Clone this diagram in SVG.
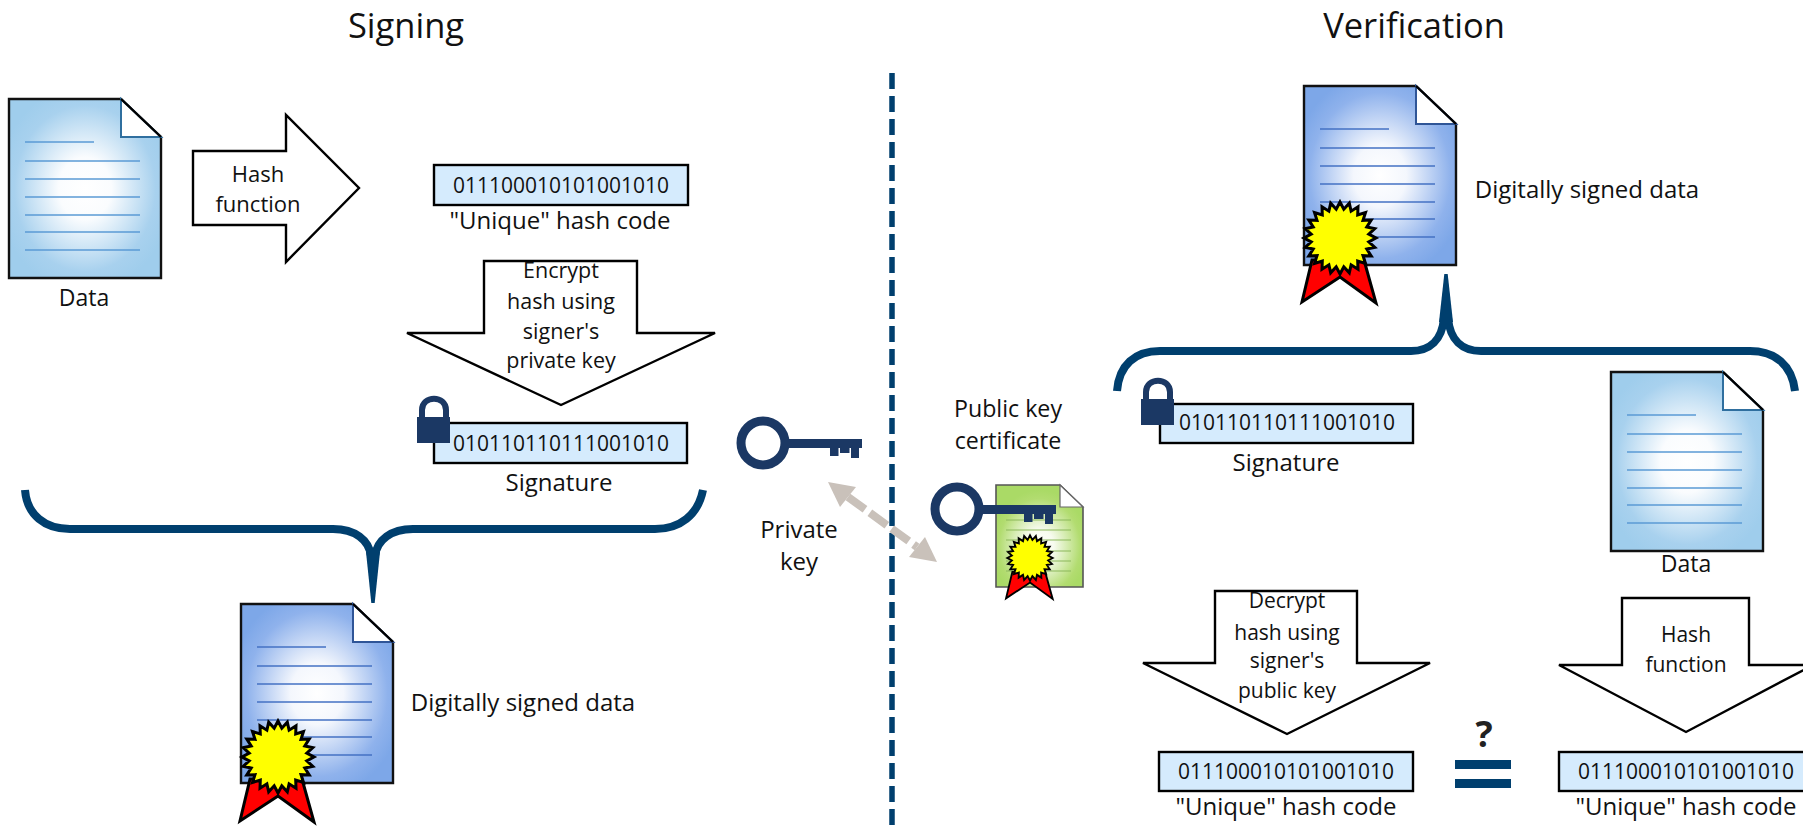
<svg xmlns="http://www.w3.org/2000/svg" xmlns:xlink="http://www.w3.org/1999/xlink" width="1803" height="829" viewBox="0 0 1803 829">
<style>
text{font-family:"Open Sans","Noto Sans",sans-serif;font-size:21px;fill:#111;text-anchor:middle}
.title{font-size:34.5px}
.label{font-size:24px}
.in{font-size:21.5px}
.q{font-size:36px;font-weight:700;fill:#222}
.arrow{fill:#fff;stroke:#000;stroke-width:2.4;stroke-linejoin:miter}
.box{fill:#d5ebfd;stroke:#000;stroke-width:2.4}
.brace{fill:none;stroke:#003f6e;stroke-width:8}
.navy{fill:#1b3864}
.docline{stroke-width:1.6;fill:none}
</style>
<defs>
<radialGradient id="gb" cx="50%" cy="50%" r="58%"><stop offset="0" stop-color="#fff"/><stop offset=".3" stop-color="#fafcfe"/><stop offset=".8" stop-color="#a8d1ee"/><stop offset="1" stop-color="#9fcdec"/></radialGradient>
<radialGradient id="gs" cx="50%" cy="50%" r="58%"><stop offset="0" stop-color="#fff"/><stop offset=".3" stop-color="#f4f7fd"/><stop offset=".8" stop-color="#8fb2ec"/><stop offset="1" stop-color="#7da7e8"/></radialGradient>
<radialGradient id="gg" cx="50%" cy="60%" r="55%"><stop offset="0" stop-color="#fff"/><stop offset=".3" stop-color="#f7fbef"/><stop offset=".85" stop-color="#b2dc70"/><stop offset="1" stop-color="#aada66"/></radialGradient>
<g id="lines">
<path class="docline" d="M16,43H85M16,62H131M16,80H131M16,98H131M16,116H131M16,133H131M16,151H131"/>
</g>
<g id="doc-blue">
<path d="M0,0H112L152,38V179H0Z" fill="url(#gb)" stroke="#111" stroke-width="2.4"/>
<path d="M112,0V38H152Z" fill="#fff" stroke="#2f6f9f" stroke-width="2"/>
<path d="M112,0L152,38" stroke="#000" stroke-width="2.4" fill="none"/>
<use href="#lines" stroke="#5b9bd5"/>
</g>
<g id="doc-sign">
<path d="M0,0H112L152,38V179H0Z" fill="url(#gs)" stroke="#111" stroke-width="2.4"/>
<path d="M112,0V38H152Z" fill="#fff" stroke="#2f5597" stroke-width="2"/>
<path d="M112,0L152,38" stroke="#000" stroke-width="2.4" fill="none"/>
<use href="#lines" stroke="#4472c4"/>
</g>
<g id="seal">
<path d="M-28,22L-38,64L0,39L36,65L24,22Z" fill="#f00" stroke="#000" stroke-width="3" stroke-linejoin="miter"/>
<polygon fill="#ff0" stroke="#000" stroke-width="3" points="36,0 28.8,3.8 34.8,9.3 26.8,11.1 31.2,18 23,17.7 25.5,25.5 17.7,23 18,31.2 11.1,26.8 9.3,34.8 3.8,28.8 0,36 -3.8,28.8 -9.3,34.8 -11.1,26.8 -18,31.2 -17.7,23 -25.5,25.5 -23,17.7 -31.2,18 -26.8,11.1 -34.8,9.3 -28.8,3.8 -36,0 -28.8,-3.8 -34.8,-9.3 -26.8,-11.1 -31.2,-18 -23,-17.7 -25.5,-25.5 -17.7,-23 -18,-31.2 -11.1,-26.8 -9.3,-34.8 -3.8,-28.8 0,-36 3.8,-28.8 9.3,-34.8 11.1,-26.8 18,-31.2 17.7,-23 25.5,-25.5 23,-17.7 31.2,-18 26.8,-11.1 34.8,-9.3 28.8,-3.8"/>
</g>
<g id="key">
<circle cx="0" cy="0" r="22" fill="#fff" stroke="#1b3864" stroke-width="9"/>
<path class="navy" d="M25,-4H99V5H96V15H88V5H86.5V10H77V5H75.5V13H67V5H25Z"/>
</g>
<g id="lock">
<path d="M5,21V12C5,-3 29,-3 29,12V21" fill="none" stroke="#1b3864" stroke-width="6"/>
<rect class="navy" x="0" y="19" width="33" height="26"/>
</g>
</defs>
<rect width="1803" height="829" fill="#fff"/>

<g id="titles">
<text class="title" x="406" y="38">Signing</text>
<text class="title" x="1414" y="38">Verification</text>
</g>

<g id="connectors">
<path id="divider" d="M892,73V829" fill="none" stroke="#003f6e" stroke-width="5.5" stroke-dasharray="16 7"/>
<g id="brace-left">
<path class="brace" d="M25,490C27,515 45,529 70,529H333C355,529 369,540 371,556M375,556C377,540 391,529 413,529H655C680,529 698,515 703,490"/>
<path fill="#003f6e" d="M366,552H380L374.7,603H371.3Z"/>
</g>
<g id="brace-right">
<path class="brace" d="M1117,391C1119,365 1135,351 1160,351H1411C1430,351 1442,340 1444,318M1448,318C1450,340 1462,351 1481,351H1750C1775,351 1792,365 1795,391"/>
<path fill="#003f6e" d="M1439,322H1453L1447.7,274H1444.3Z"/>
</g>
<g id="key-exchange">
<path d="M848,497L917,547" fill="none" stroke="#c9c1ba" stroke-width="8" stroke-dasharray="21 6"/>
<polygon fill="#c9c1ba" points="828,482 856,487 840,507"/>
<polygon fill="#c9c1ba" points="937,562 909,557 925,537"/>
</g>
</g>

<g id="node-data">
<use href="#doc-blue" x="9" y="99"/>
<text class="label" x="84" y="306" style="font-size:23px">Data</text>
</g>
<g id="node-hash-arrow">
<path class="arrow" d="M193,151H286V115L359,188L286,262V225H193Z"/>
<text x="258" y="182" style="font-size:22px">Hash</text>
<text x="258" y="212" style="font-size:22px">function</text>
</g>
<g id="node-hash-code">
<rect class="box" x="434" y="165" width="254" height="40"/>
<text x="561" y="193">011100010101001010</text>
<text class="label" x="560" y="229">"Unique" hash code</text>
</g>
<g id="node-encrypt-arrow">
<path class="arrow" d="M484,261H637V333H715L561,405L407,333H484Z"/>
<text class="in" x="561" y="278">Encrypt</text>
<text class="in" x="561" y="309">hash using</text>
<text class="in" x="561" y="339">signer's</text>
<text class="in" x="561" y="368">private key</text>
</g>
<g id="node-signature">
<rect class="box" x="434" y="423" width="253" height="40"/>
<use href="#lock" x="417" y="398"/>
<text x="561" y="451">010110110111001010</text>
<text class="label" x="559" y="491">Signature</text>
</g>
<g id="node-signed-left">
<use href="#doc-sign" x="241" y="604"/>
<use href="#seal" x="278" y="757"/>
<text class="label" x="523" y="711">Digitally signed data</text>
</g>
<g id="node-private-key">
<use href="#key" x="763" y="443"/>
<text class="label" x="799" y="538">Private</text>
<text class="label" x="799" y="570">key</text>
</g>
<g id="node-public-cert">
<path d="M996,485H1060L1083,507V587H996Z" fill="url(#gg)" stroke="#555" stroke-width="1.6"/>
<path d="M1060,485V507H1083Z" fill="#fff" stroke="#666" stroke-width="1.2"/>
<path d="M1006,520H1071M1006,530H1071M1006,540H1071M1006,551H1071M1006,561H1071M1006,571H1071" fill="none" stroke="#8bb85a" stroke-width="1"/>
<use href="#seal" transform="translate(1030,558) scale(.63)"/>
<use href="#key" x="957" y="509"/>
<text class="label" x="1008" y="417" style="font-size:23.2px">Public key</text>
<text class="label" x="1008" y="449" style="font-size:23.2px">certificate</text>
</g>
<g id="node-signed-right">
<use href="#doc-sign" x="1304" y="86"/>
<use href="#seal" x="1340" y="238"/>
<text class="label" x="1587" y="198">Digitally signed data</text>
</g>
<g id="node-signature-right">
<rect class="box" x="1160" y="404" width="253" height="39"/>
<use href="#lock" x="1141" y="380"/>
<text x="1287" y="430">010110110111001010</text>
<text class="label" x="1286" y="471">Signature</text>
</g>
<g id="node-data-right">
<use href="#doc-blue" x="1611" y="372"/>
<text class="label" x="1686" y="572" style="font-size:23px">Data</text>
</g>
<g id="node-decrypt-arrow">
<path class="arrow" d="M1215,591H1357V663H1430L1287,734L1143,663H1215Z"/>
<text x="1287" y="608">Decrypt</text>
<text x="1287" y="640">hash using</text>
<text x="1287" y="668">signer's</text>
<text x="1287" y="698">public key</text>
</g>
<g id="node-hash-arrow-right">
<path class="arrow" d="M1622,598H1749V665H1813L1686,732L1559,665H1622Z"/>
<text x="1686" y="642">Hash</text>
<text x="1686" y="672">function</text>
</g>
<g id="node-code-left">
<rect class="box" x="1159" y="752" width="254" height="39"/>
<text x="1286" y="779">011100010101001010</text>
<text class="label" x="1286" y="815">"Unique" hash code</text>
</g>
<g id="node-equals">
<text class="q" x="1484" y="747">?</text>
<rect x="1455" y="760" width="56" height="9" fill="#003f6e"/>
<rect x="1455" y="779" width="56" height="9" fill="#003f6e"/>
</g>
<g id="node-code-right">
<rect class="box" x="1559" y="752" width="254" height="39"/>
<text x="1686" y="779">011100010101001010</text>
<text class="label" x="1686" y="815">"Unique" hash code</text>
</g>
</svg>
